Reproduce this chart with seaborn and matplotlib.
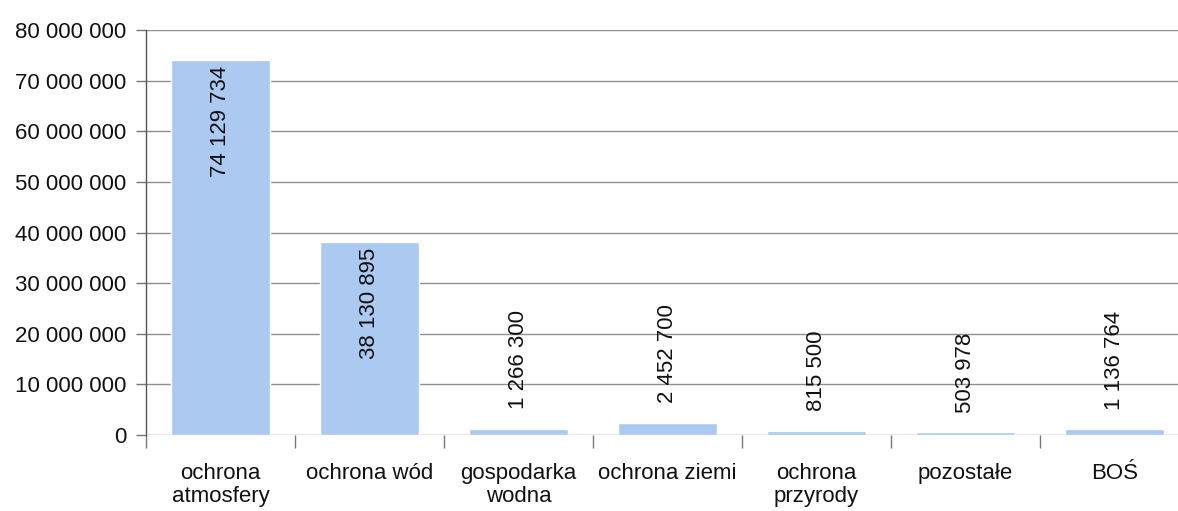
import matplotlib
matplotlib.use("Agg")
import matplotlib.pyplot as plt
import seaborn as sns
import pandas as pd
from matplotlib.ticker import FuncFormatter, FixedLocator

categories = ["ochrona\natmosfery", "ochrona wód", "gospodarka\nwodna", "ochrona ziemi",
              "ochrona\nprzyrody", "pozostałe", "BOŚ"]
values = [74129734, 38130895, 1266300, 2452700, 815500, 503978, 1136764]
value_labels = ["74 129 734", "38 130 895", "1 266 300", "2 452 700", "815 500", "503 978", "1 136 764"]
y_ticks = [0, 10000000, 20000000, 30000000, 40000000, 50000000, 60000000, 70000000, 80000000]

sns.set_theme(style="white")
plt.rcParams['font.family'] = ['Liberation Sans', 'DejaVu Sans']

df = pd.DataFrame({"kategoria": categories, "wartosc": values})

W, H = 1178, 511
fig = plt.figure(figsize=(W / 100, H / 100), dpi=100)
ax_left, ax_right, ax_bottom, ax_top = 146, 1189, 435, 30
ax = fig.add_axes([ax_left / W, (H - ax_bottom) / H, (ax_right - ax_left) / W, (ax_bottom - ax_top) / H])

sns.barplot(data=df, x="kategoria", y="wartosc", color="#abc9f1", saturation=1,
            width=0.66, ax=ax, zorder=3)

ax.set_ylim(0, 80000000)
ax.set_xlim(-0.5, len(categories) - 0.5)
ax.yaxis.set_major_locator(FixedLocator(y_ticks))
ax.yaxis.set_major_formatter(FuncFormatter(lambda v, p: f"{int(v):,}".replace(",", " ")))
ax.grid(axis="y", color="#909090", linewidth=1.0, zorder=0)
ax.set_axisbelow(True)

ax.set_xlabel("")
ax.set_ylabel("")
for s in ["top", "right", "bottom"]:
    ax.spines[s].set_visible(False)
ax.spines["left"].set_color("#555555")
ax.spines["left"].set_linewidth(1.0)

fs = 16
ax.tick_params(axis="y", which="major", left=True, length=7, width=1, color="#777777",
               labelsize=fs, labelcolor="#111111", pad=7)
ax.tick_params(axis="x", which="major", bottom=False, labelsize=fs, labelcolor="#111111", pad=14)
ax.set_xticks(range(len(categories)))
ax.set_xticklabels(categories, linespacing=1.15)
ax.set_xticks([i - 0.5 for i in range(len(categories) + 1)], minor=True)
ax.tick_params(axis="x", which="minor", bottom=True, length=9, width=1, color="#777777")

for i, (v, lab) in enumerate(zip(values, value_labels)):
    if v > 20000000:
        ax.annotate(lab, xy=(i, v), xytext=(0, -4), textcoords="offset points",
                    rotation=90, ha="center", va="top", fontsize=fs, color="#111111")
    else:
        ax.annotate(lab, xy=(i, v), xytext=(0, 14), textcoords="offset points",
                    rotation=90, ha="center", va="bottom", fontsize=fs, color="#111111")

fig.savefig("out.png", dpi=100)
